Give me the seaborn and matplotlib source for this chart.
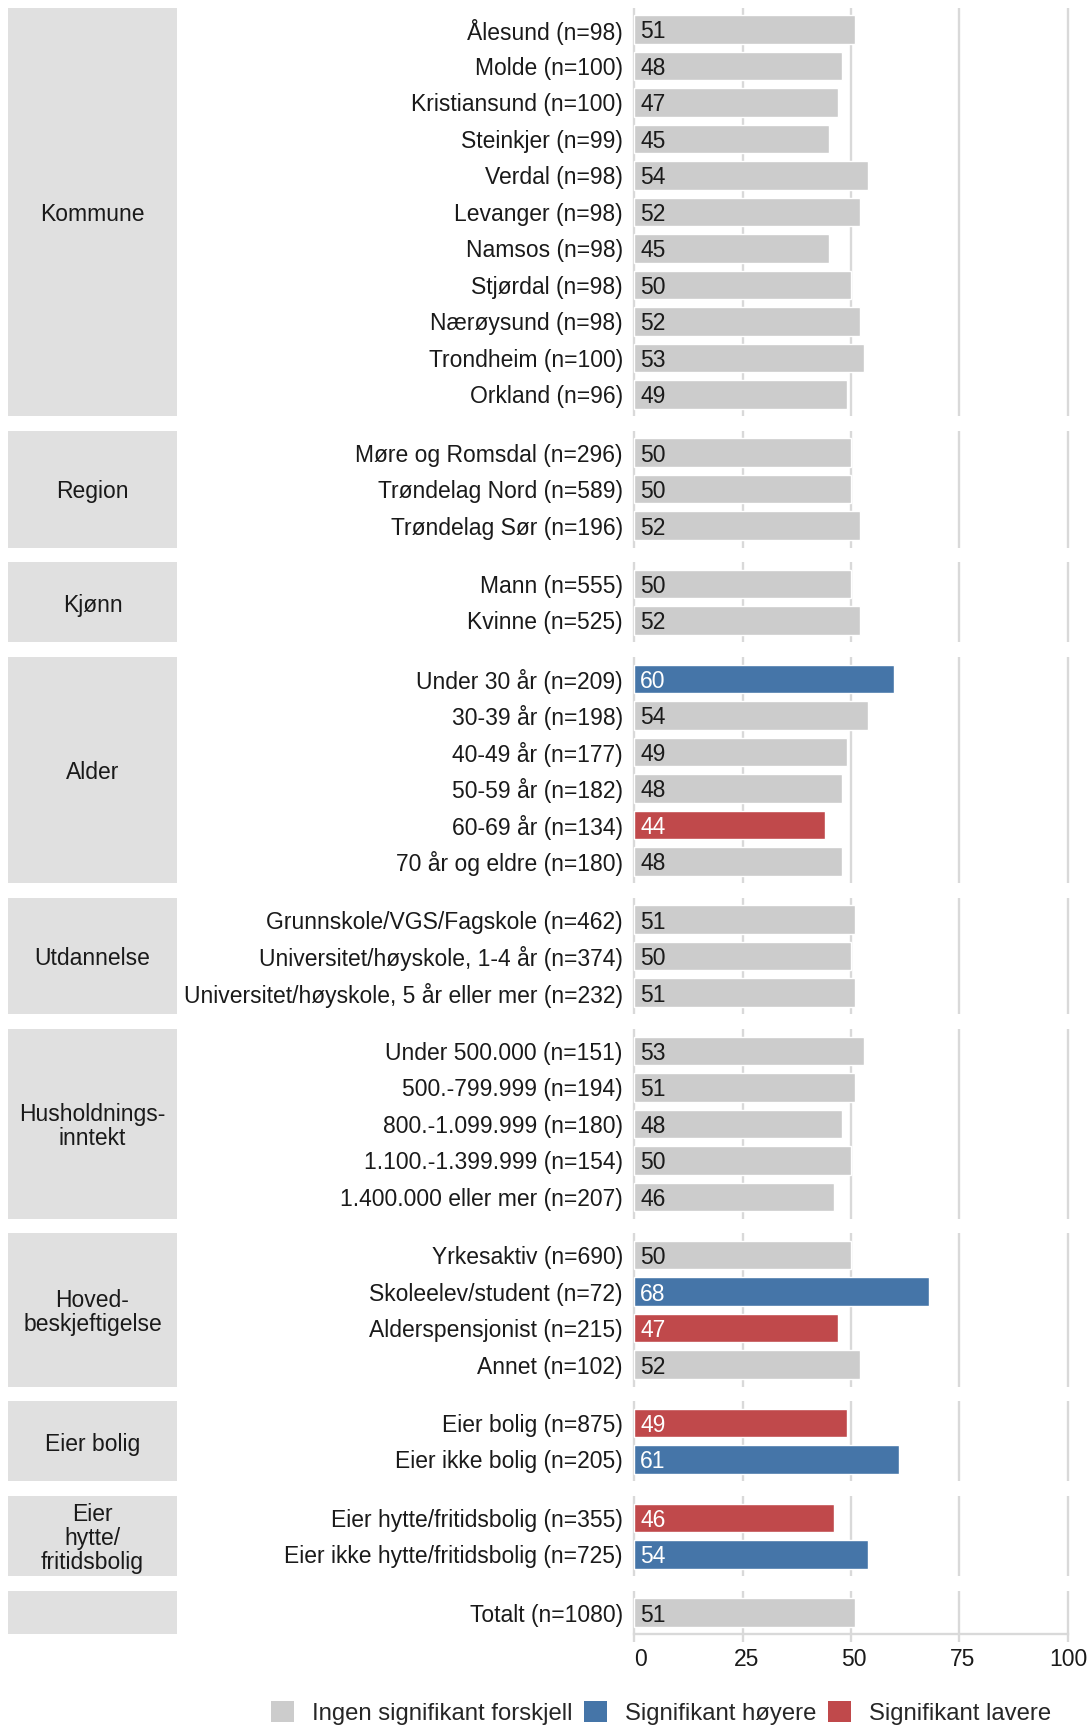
import numpy as np
import pandas as pd
import matplotlib.pyplot as plt
import matplotlib.transforms as mtransforms
from matplotlib.patches import Patch
import seaborn as sns

sns.set_theme(style='white')
plt.rcParams['font.family'] = ['Liberation Sans', 'DejaVu Sans']

# data
grupper = ['Kommune', 'Region', 'Kjønn', 'Alder', 'Utdannelse',
           'Husholdnings-\ninntekt', 'Hoved-\nbeskjeftigelse', 'Eier bolig',
           'Eier\nhytte/\nfritidsbolig', '']

kategorier = [
    ['Ålesund (n=98)', 'Molde (n=100)', 'Kristiansund (n=100)', 'Steinkjer (n=99)',
     'Verdal (n=98)', 'Levanger (n=98)', 'Namsos (n=98)', 'Stjørdal (n=98)',
     'Nærøysund (n=98)', 'Trondheim (n=100)', 'Orkland (n=96)'],
    ['Møre og Romsdal (n=296)', 'Trøndelag Nord (n=589)', 'Trøndelag Sør (n=196)'],
    ['Mann (n=555)', 'Kvinne (n=525)'],
    ['Under 30 år (n=209)', '30-39 år (n=198)', '40-49 år (n=177)', '50-59 år (n=182)',
     '60-69 år (n=134)', '70 år og eldre (n=180)'],
    ['Grunnskole/VGS/Fagskole (n=462)', 'Universitet/høyskole, 1-4 år (n=374)',
     'Universitet/høyskole, 5 år eller mer (n=232)'],
    ['Under 500.000 (n=151)', '500.-799.999 (n=194)', '800.-1.099.999 (n=180)',
     '1.100.-1.399.999 (n=154)', '1.400.000 eller mer (n=207)'],
    ['Yrkesaktiv (n=690)', 'Skoleelev/student (n=72)', 'Alderspensjonist (n=215)',
     'Annet (n=102)'],
    ['Eier bolig (n=875)', 'Eier ikke bolig (n=205)'],
    ['Eier hytte/fritidsbolig (n=355)', 'Eier ikke hytte/fritidsbolig (n=725)'],
    ['Totalt (n=1080)'],
]

verdier = [
    [51, 48, 47, 45, 54, 52, 45, 50, 52, 53, 49],
    [50, 50, 52],
    [50, 52],
    [60, 54, 49, 48, 44, 48],
    [51, 50, 51],
    [53, 51, 48, 50, 46],
    [50, 68, 47, 52],
    [49, 61],
    [46, 54],
    [51],
]

# 0 = ingen forskjell, 1 = høyere, 2 = lavere
signifikans = [
    [0] * 11,
    [0, 0, 0],
    [0, 0],
    [1, 0, 0, 0, 2, 0],
    [0, 0, 0],
    [0, 0, 0, 0, 0],
    [0, 1, 2, 0],
    [2, 1],
    [2, 1],
    [0],
]

x_ticks = [0, 25, 50, 75, 100]

sig_navn = ['Ingen signifikant forskjell', 'Signifikant høyere', 'Signifikant lavere']
farger = ['#cccccc', '#4575a8', '#c0494b']
tekstfarger = ['#1a1a1a', 'white', 'white']

rows = []
for g, kat, val, sig in zip(grupper, kategorier, verdier, signifikans):
    for k, v, s in zip(kat, val, sig):
        rows.append({'gruppe': g, 'kategori': k, 'verdi': v, 'sig': sig_navn[s]})
df = pd.DataFrame(rows)

fs = 16.5

# layout (pixels)
W, H = 1090, 1725
fig = plt.figure(figsize=(W / 100, H / 100), dpi=100)
top = 7.5
unit = 36.5
gap = 14.5
x0, x1 = 629.7, 1072.3
s0, s1 = 8, 177

y = top
for i, g in enumerate(grupper):
    sub = df[df['gruppe'] == g]
    n = len(sub)
    h = (n + 0.2) * unit
    ax = fig.add_axes([x0 / W, 1 - (y + h) / H, (x1 - x0) / W, h / H])
    sax = fig.add_axes([s0 / W, 1 - (y + h) / H, (s1 - s0) / W, h / H])

    sns.barplot(data=sub, y='kategori', x='verdi', hue='sig', hue_order=sig_navn,
                palette=farger, dodge=False, width=0.78, orient='h',
                legend=False, ax=ax, saturation=1)
    ax.set_xlim(-1, 101)
    ax.set_ylim(n - 0.4, -0.6)
    ax.set_xlabel('')
    ax.set_ylabel('')
    ax.set_axisbelow(True)
    for xv in x_ticks:
        ax.axvline(xv, color='#d9d9d9', lw=1.7, zorder=0)
    for sp in ax.spines.values():
        sp.set_visible(False)
    ax.tick_params(axis='y', length=0, pad=5, labelsize=fs, labelcolor='#1a1a1a')

    for j, (v, s) in enumerate(zip(sub['verdi'], sub['sig'])):
        ax.text(1.4, j, str(v), va='center_baseline', ha='left', fontsize=fs,
                color=tekstfarger[sig_navn.index(s)])

    if i == len(grupper) - 1:
        ax.spines['bottom'].set_visible(True)
        ax.spines['bottom'].set_color('#d9d9d9')
        ax.spines['bottom'].set_linewidth(1.7)
        ax.spines['bottom'].set_bounds(0, 100)
        ax.set_xticks(x_ticks)
        ax.tick_params(axis='x', length=6, width=1.7, color='#d9d9d9',
                       labelsize=fs, labelcolor='#1a1a1a', pad=4, bottom=True)
        # ggplot-lignende forskyvning av tick-tekstene
        for lab, dx in zip(ax.get_xticklabels(), [6, 4, 3, 3, 0]):
            skift = mtransforms.ScaledTranslation(dx / 100, 0, fig.dpi_scale_trans)
            lab.set_transform(lab.get_transform() + skift)
    else:
        ax.set_xticks([])

    sax.set_facecolor('#e0e0e0')
    sax.set_xticks([])
    sax.set_yticks([])
    for sp in sax.spines.values():
        sp.set_visible(False)
    sax.annotate(g, xy=(0.5, 0.5), xycoords='axes fraction', xytext=(0, -2),
                 textcoords='offset points', ha='center', va='center', fontsize=fs,
                 color='#1a1a1a', linespacing=1.05)

    y += h + gap

handles = [Patch(facecolor=c, edgecolor='none') for c in farger]
fig.legend(handles, sig_navn, loc='center', bbox_to_anchor=(661 / W, 12 / H),
           ncol=3, frameon=False, fontsize=17.2, handlelength=0.95, handleheight=0.95,
           handletextpad=0.75, columnspacing=0.5)

plt.savefig('out.png', dpi=100)
